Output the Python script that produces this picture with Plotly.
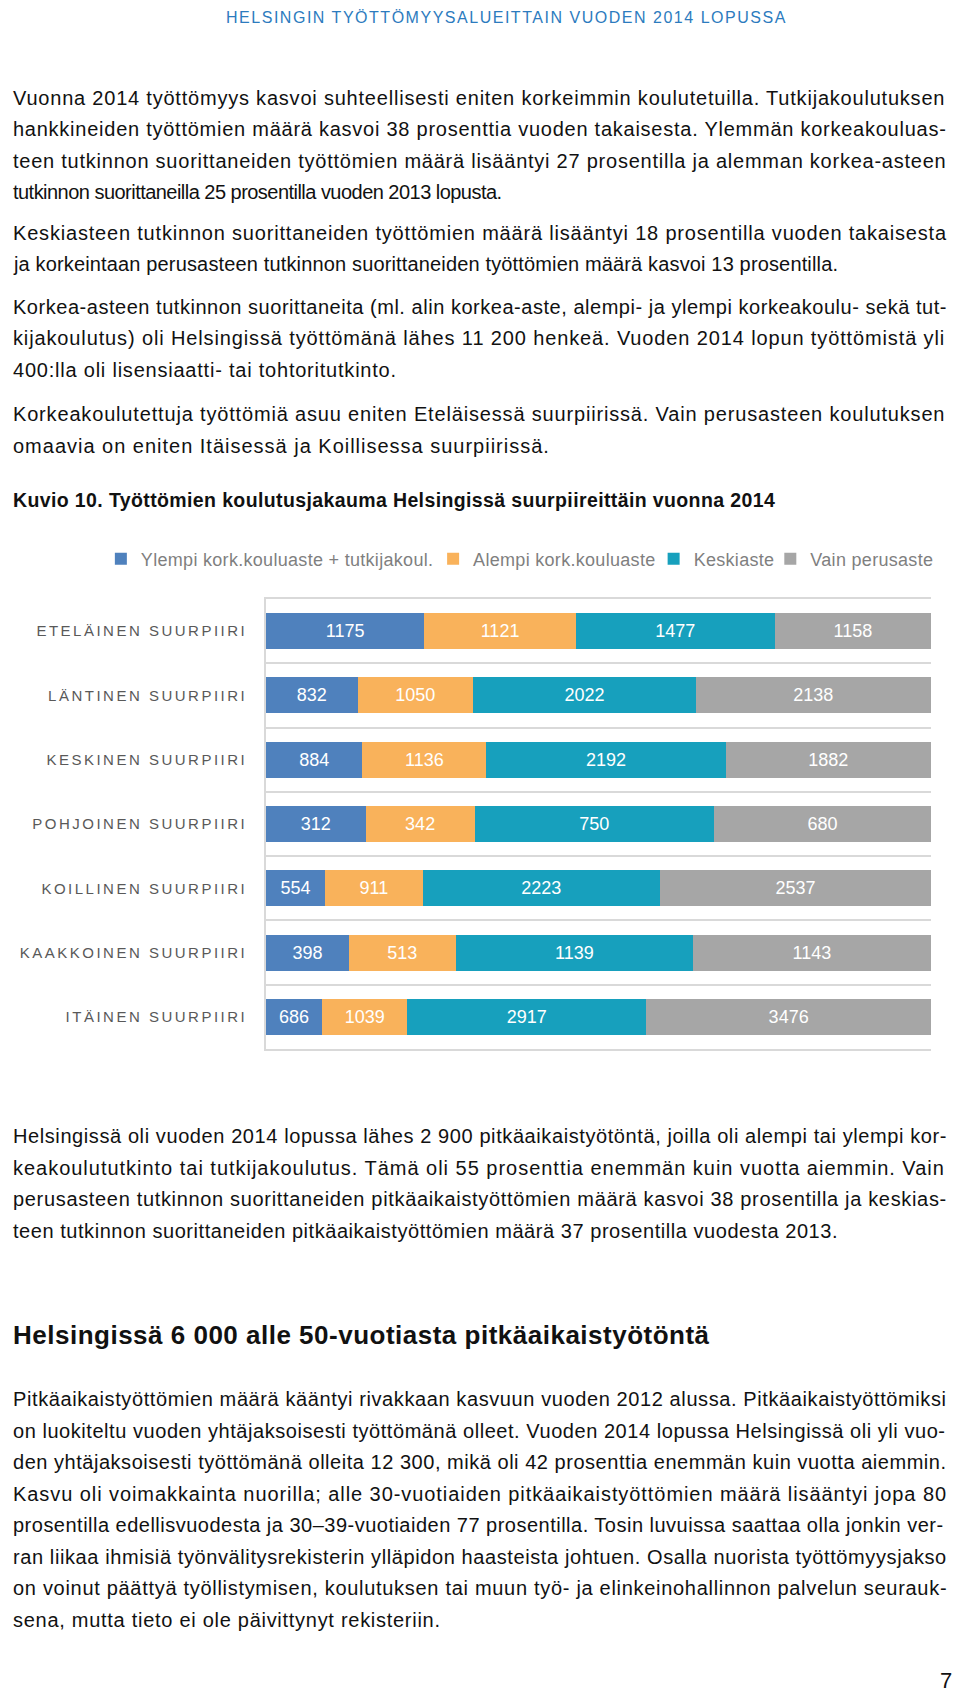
import plotly.graph_objects as go

# ---------------- data ----------------
categories = ["ETELÄINEN SUURPIIRI", "LÄNTINEN SUURPIIRI", "KESKINEN SUURPIIRI",
              "POHJOINEN SUURPIIRI", "KOILLINEN SUURPIIRI", "KAAKKOINEN SUURPIIRI",
              "ITÄINEN SUURPIIRI"]
series_names = ["Ylempi kork.kouluaste + tutkijakoul.", "Alempi kork.kouluaste",
                "Keskiaste", "Vain perusaste"]
ylempi = [1175, 832, 884, 312, 554, 398, 686]
alempi = [1121, 1050, 1136, 342, 911, 513, 1039]
keskiaste = [1477, 2022, 2192, 750, 2223, 1139, 2917]
perusaste = [1158, 2138, 1882, 680, 2537, 1143, 3476]
series_values = [ylempi, alempi, keskiaste, perusaste]
colors = ["#4F81BD", "#F9B25B", "#17A0BD", "#A6A6A6"]

header = "HELSINGIN TYÖTTÖMYYSALUEITTAIN VUODEN 2014 LOPUSSA"
figure_title = "Kuvio 10. Työttömien koulutusjakauma Helsingissä suurpiireittäin vuonna 2014"
section_heading = "Helsingissä 6 000 alle 50-vuotiasta pitkäaikaistyötöntä"
page_number = "7"

paragraphs_top = [
    ["Vuonna 2014 työttömyys kasvoi suhteellisesti eniten korkeimmin koulutetuilla. Tutkijakoulutuksen",
     "hankkineiden työttömien määrä kasvoi 38 prosenttia vuoden takaisesta. Ylemmän korkeakouluas-",
     "teen tutkinnon suorittaneiden työttömien määrä lisääntyi 27 prosentilla ja alemman korkea-asteen",
     "tutkinnon suorittaneilla 25 prosentilla vuoden 2013 lopusta."],
    ["Keskiasteen tutkinnon suorittaneiden työttömien määrä lisääntyi 18 prosentilla vuoden takaisesta",
     "ja korkeintaan perusasteen tutkinnon suorittaneiden työttömien määrä kasvoi 13 prosentilla."],
    ["Korkea-asteen tutkinnon suorittaneita (ml. alin korkea-aste, alempi- ja ylempi korkeakoulu- sekä tut-",
     "kijakoulutus) oli Helsingissä työttömänä lähes 11 200 henkeä. Vuoden 2014 lopun työttömistä yli",
     "400:lla oli lisensiaatti- tai tohtoritutkinto."],
    ["Korkeakoulutettuja työttömiä asuu eniten Eteläisessä suurpiirissä. Vain perusasteen koulutuksen",
     "omaavia on eniten Itäisessä ja Koillisessa suurpiirissä."],
]
paragraphs_bottom = [
    ["Helsingissä oli vuoden 2014 lopussa lähes 2 900 pitkäaikaistyötöntä, joilla oli alempi tai ylempi kor-",
     "keakoulututkinto tai tutkijakoulutus. Tämä oli 55 prosenttia enemmän kuin vuotta aiemmin. Vain",
     "perusasteen tutkinnon suorittaneiden pitkäaikaistyöttömien määrä kasvoi 38 prosentilla ja keskias-",
     "teen tutkinnon suorittaneiden pitkäaikaistyöttömien määrä 37 prosentilla vuodesta 2013."],
]
paragraph_last = [
    ["Pitkäaikaistyöttömien määrä kääntyi rivakkaan kasvuun vuoden 2012 alussa. Pitkäaikaistyöttömiksi",
     "on luokiteltu vuoden yhtäjaksoisesti työttömänä olleet. Vuoden 2014 lopussa Helsingissä oli yli vuo-",
     "den yhtäjaksoisesti työttömänä olleita 12 300, mikä oli 42 prosenttia enemmän kuin vuotta aiemmin.",
     "Kasvu oli voimakkainta nuorilla; alle 30-vuotiaiden pitkäaikaistyöttömien määrä lisääntyi jopa 80",
     "prosentilla edellisvuodesta ja 30–39-vuotiaiden 77 prosentilla. Tosin luvuissa saattaa olla jonkin ver-",
     "ran liikaa ihmisiä työnvälitysrekisterin ylläpidon haasteista johtuen. Osalla nuorista työttömyysjakso",
     "on voinut päättyä työllistymisen, koulutuksen tai muun työ- ja elinkeinohallinnon palvelun seurauk-",
     "sena, mutta tieto ei ole päivittynyt rekisteriin."],
]

# ---------------- layout helpers ----------------
FONT = "Liberation Sans, Arial, Helvetica, sans-serif"
OFF = 8                      # default margin of the html page body
W, H = 960 - 2 * OFF, 1704 - 2 * OFF
# plot area in figure pixels (page pixels minus the page margin)
PL, PR, PT, PB = 259 - OFF, 931.5 - OFF, 599 - OFF, 1049 - OFF

REG = {' ': 278, '(': 333, ')': 333, '+': 584, ',': 278, '-': 333, '.': 278, ':': 278, ';': 278,
       '–': 556, 'A': 667, 'B': 667, 'C': 722, 'D': 722, 'E': 667, 'F': 611, 'G': 778, 'H': 722,
       'I': 278, 'J': 500, 'K': 667, 'L': 556, 'M': 833, 'N': 722, 'O': 778, 'P': 667, 'Q': 778,
       'R': 722, 'S': 667, 'T': 611, 'U': 722, 'V': 667, 'W': 944, 'X': 667, 'Y': 667, 'Z': 611,
       'Ä': 667, 'Ö': 778, 'a': 556, 'b': 556, 'c': 500, 'd': 556, 'e': 556, 'f': 278, 'g': 556,
       'h': 556, 'i': 222, 'j': 222, 'k': 500, 'l': 222, 'm': 833, 'n': 556, 'o': 556, 'p': 556,
       'q': 556, 'r': 333, 's': 500, 't': 278, 'u': 556, 'v': 500, 'w': 722, 'x': 500, 'y': 500,
       'z': 500, 'ä': 556, 'ö': 556}
BOLD = {' ': 278, '-': 333, '.': 278, ',': 278, 'A': 722, 'E': 667, 'H': 722, 'K': 722, 'T': 611,
        'a': 556, 'b': 611, 'c': 556, 'd': 611, 'e': 556, 'f': 333, 'g': 611, 'h': 611, 'i': 278,
        'j': 278, 'k': 556, 'l': 278, 'm': 889, 'n': 611, 'o': 611, 'p': 611, 'r': 389, 's': 556,
        't': 333, 'u': 611, 'v': 556, 'y': 556, 'ä': 556, 'ö': 611}


def text_width(s, size, bold=False):
    table = BOLD if bold else REG
    return sum(table.get(c, 556) for c in s) * size / 1000.0


def spacing_for(s, size, target, bold=False):
    return (target - text_width(s, size, bold)) / max(len(s) - 1, 1)


def px_x(x):
    return (x - OFF - PL) / (PR - PL)


def px_y(y):
    return (PB - (y - OFF)) / (PB - PT)


fig = go.Figure()

legend_ids = ["legend", "legend2", "legend3", "legend4"]
for name, vals, col, lg in zip(series_names, series_values, colors, legend_ids):
    fig.add_trace(go.Bar(
        y=categories, x=vals,
        name=f"<span style='letter-spacing:0.3px'>{name}</span>",
        orientation="h", legend=lg,
        marker=dict(color=col, line=dict(width=0)),
        text=vals, texttemplate="%{text}", textposition="inside",
        insidetextanchor="middle", textangle=0,
        textfont=dict(family=FONT, size=18, color="white"),
        hoverinfo="skip",
    ))


def add_line(text, x, y, size, color="#111111", bold=False, ls=0.0, xanchor="left"):
    fig.add_annotation(
        text=f"<span style='letter-spacing:{ls:.2f}px'>{text}</span>",
        x=px_x(x), y=px_y(y), xref="paper", yref="paper",
        xanchor=xanchor, yanchor="middle", showarrow=False,
        borderpad=0, borderwidth=0,
        font=dict(family=FONT, size=size, color=color, weight="bold" if bold else "normal"),
    )


BODY = 20
LEFT = 3            # anchor in page px; the glyphs start at about page x 13
TEXT_START = 13
TEXT_END = 946      # right edge of justified lines (page px)
LINE = 31.5


def add_paragraphs(paras, starts, last_ends):
    for lines, y0, end in zip(paras, starts, last_ends):
        for i, line in enumerate(lines):
            y = y0 + i * LINE
            target = (TEXT_END if i < len(lines) - 1 else end) - TEXT_START
            add_line(line, LEFT, y, BODY, ls=spacing_for(line, BODY, target))


# texts placed in page pixel coordinates
add_line(header, 219, 18, 16, color="#2C7BBE", ls=spacing_for(header, 16, 561))
add_paragraphs(paragraphs_top, [97.8, 232.7, 306.6, 414.2], [502, 837, 396, 549])
add_line(figure_title, LEFT, 500, 19.5, bold=True,
         ls=spacing_for(figure_title, 19.5, 776 - TEXT_START, bold=True))
add_paragraphs(paragraphs_bottom, [1136.1], [837])
add_line(section_heading, LEFT, 1335, 26, bold=True,
         ls=spacing_for(section_heading, 26, 709 - TEXT_START, bold=True))
add_paragraphs(paragraph_last, [1399.2], [440])
add_line(page_number, 953, 1680, 22, xanchor="right")

ticktext = [f"<span style='letter-spacing:2.5px'>{c}</span>" for c in categories]

legend_text_starts = [133, 469, 692, 810]
legend_layouts = {}
for lg, xs in zip(legend_ids, legend_text_starts):
    legend_layouts[lg] = dict(orientation="h", x=px_x(xs - 41), xanchor="left",
                              y=px_y(559), yanchor="middle",
                              font=dict(family=FONT, size=18, color="#7F7F7F"),
                              bgcolor="rgba(0,0,0,0)", borderwidth=0)

fig.update_layout(
    width=W, height=H,
    margin=dict(l=PL, r=W - PR, t=PT, b=H - PB, pad=0),
    paper_bgcolor="white", plot_bgcolor="white",
    barmode="stack", barnorm="percent", bargap=0.44,
    font=dict(family=FONT, color="#595959"),
    showlegend=True,
    xaxis=dict(range=[0, 100], showticklabels=False, ticks="", showgrid=False, zeroline=False,
               showline=True, mirror=True, linecolor="#D9D9D9", linewidth=1.5, fixedrange=True),
    yaxis=dict(type="category", categoryorder="array", categoryarray=categories,
               autorange="reversed", tickmode="array", tickvals=categories, ticktext=ticktext,
               tickson="boundaries", ticks="", showgrid=True, gridcolor="#D9D9D9", gridwidth=1.5,
               showline=True, linecolor="#D9D9D9", linewidth=1.5, zeroline=False,
               tickfont=dict(family=FONT, size=15, color="#595959"), ticklabelstandoff=14,
               fixedrange=True),
    **legend_layouts,
)

fig.write_html("out.html")
